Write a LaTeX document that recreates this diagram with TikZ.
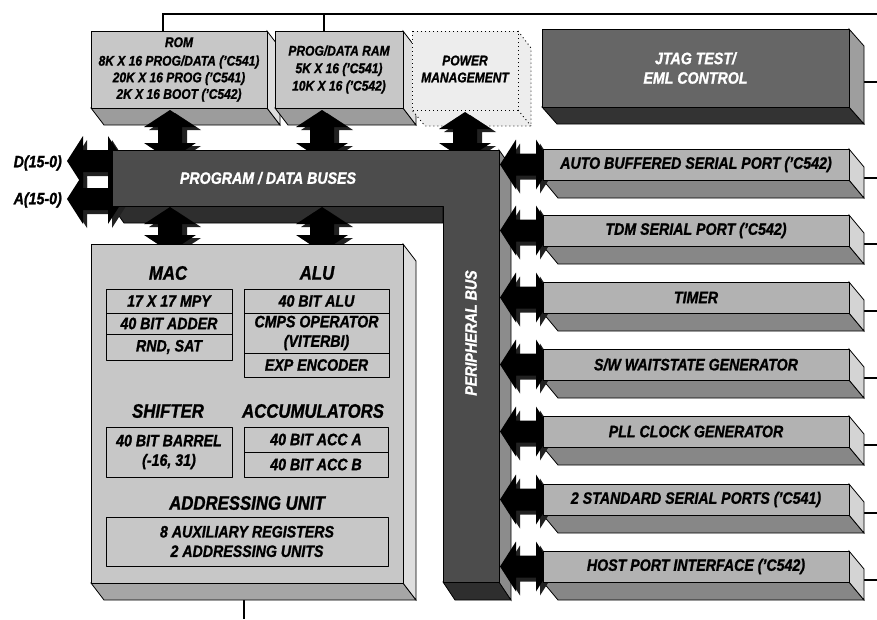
\documentclass[tikz,border=0pt]{standalone}
\usepackage{fontspec}
\setmainfont{Liberation Sans}[FakeStretch=0.86, BoldItalicFeatures={FakeBold=1.2}]
\usetikzlibrary{calc}
\definecolor{memfront}{gray}{0.78}
\definecolor{membot}{gray}{0.61}
\definecolor{memright}{gray}{0.87}
\definecolor{cpufront}{gray}{0.78}
\definecolor{cpubot}{gray}{0.65}
\definecolor{cpuright}{gray}{0.87}
\definecolor{perfront}{gray}{0.70}
\definecolor{perbot}{gray}{0.53}
\definecolor{perright}{gray}{0.83}
\definecolor{jtagfront}{gray}{0.40}
\definecolor{jtagbot}{gray}{0.20}
\definecolor{jtagright}{gray}{0.62}
\definecolor{busfront}{gray}{0.30}
\definecolor{busbot}{gray}{0.18}
\definecolor{busright}{gray}{0.55}
\definecolor{pmfill}{gray}{0.93}
\definecolor{arrshade}{gray}{0.13}
\pgfdeclarelayer{bg}
\pgfdeclarelayer{lines}
\pgfdeclarelayer{extr}
\pgfdeclarelayer{arr}
\pgfsetlayers{bg,lines,extr,arr,main}
\tikzset{
  faceline/.style={draw=black, line width=0.8pt},
  conn/.style={draw=black, line width=1.8pt},
  memtxt/.style={font=\fontsize{14}{16.6}\selectfont\bfseries\itshape},
  pertxt/.style={font=\fontsize{16.5}{19.5}\selectfont\bfseries\itshape},
  ttltxt/.style={font=\fontsize{19.5}{22}\selectfont\bfseries\itshape, inner sep=0pt},
  cell/.style={draw=black, line width=1pt, fill=cpufront, inner sep=0pt, outer sep=0pt, align=center, pertxt},
}
\def\dx{13}\def\dy{17}
% 3D box: name, x1, y1, x2, y2, kind, text style, text
\newcommand\tdbox[8]{%
  \node[faceline, fill=#6front, inner sep=0pt, outer sep=0pt, align=center,
        minimum width={(#4-#2)*1pt}, minimum height={(#5-#3)*1pt}, #7]
        (#1) at ({(#2+#4)/2},{(#3+#5)/2}) {#8};
  \begin{pgfonlayer}{extr}
    \filldraw[fill=#6bot, faceline] (#1.south west) -- ++(\dx,\dy) -- ($(#1.south east)+(\dx,\dy)$) -- (#1.south east) -- cycle;
    \filldraw[fill=#6right, faceline] (#1.north east) -- ++(\dx,\dy) -- ($(#1.south east)+(\dx,\dy)$) -- (#1.south east) -- cycle;
  \end{pgfonlayer}}
\newcommand\cellbox[6]{%
  \node[cell, minimum width={(#4-#2)*1pt}, minimum height={(#5-#3)*1pt}]
        (#1) at ({(#2+#4)/2},{(#3+#5)/2}) {#6};}
% vertical double block arrow: cx, ytop, ybot
\newcommand\varr[3]{%
  \begin{pgfonlayer}{arr}
  \fill[arrshade, shift={(5,3)}] (#1,#2) -- (#1+26,#2+17) -- (#1+12,#2+17) -- (#1+12,#3-17) -- (#1+26,#3-17) -- (#1,#3) -- (#1-26,#3-17) -- (#1-12,#3-17) -- (#1-12,#2+17) -- (#1-26,#2+17) -- cycle;
  \fill[black] (#1,#2) -- (#1+26,#2+17) -- (#1+12,#2+17) -- (#1+12,#3-17) -- (#1+26,#3-17) -- (#1,#3) -- (#1-26,#3-17) -- (#1-12,#3-17) -- (#1-12,#2+17) -- (#1-26,#2+17) -- cycle;
  \end{pgfonlayer}}
% horizontal double block arrow: cy, xleft, xright
\newcommand\harr[3]{%
  \begin{pgfonlayer}{arr}
  \fill[arrshade, shift={(4,4)}] (#2,#1) -- (#2+16,#1-25) -- (#2+16,#1-11) -- (#3-16,#1-11) -- (#3-16,#1-25) -- (#3,#1) -- (#3-16,#1+25) -- (#3-16,#1+11) -- (#2+16,#1+11) -- (#2+16,#1+25) -- cycle;
  \fill[black] (#2,#1) -- (#2+16,#1-25) -- (#2+16,#1-11) -- (#3-16,#1-11) -- (#3-16,#1-25) -- (#3,#1) -- (#3-16,#1+25) -- (#3-16,#1+11) -- (#2+16,#1+11) -- (#2+16,#1+25) -- cycle;
  \end{pgfonlayer}}
\begin{document}
\begin{tikzpicture}[x=1pt,y=-1pt,line join=round]
\useasboundingbox (0,0) rectangle (877,619);
\begin{pgfonlayer}{bg}
\fill[white] (0,0) rectangle (877,619);
\end{pgfonlayer}

% ---------- memory row ----------
\def\dx{13}\def\dy{17}
\tdbox{rom}{91}{31}{267}{108}{mem}{memtxt}{ROM\\[2pt]8K X 16 PROG/DATA ('C541)\\20K X 16 PROG ('C541)\\2K X 16 BOOT ('C542)}
\tdbox{ram}{275}{31}{403}{108}{mem}{memtxt, font=\fontsize{14}{17.5}\selectfont\bfseries\itshape}{PROG/DATA RAM\\5K X 16 ('C541)\\10K X 16 ('C542)}
\def\dx{15}\def\dy{17}
\tdbox{jtag}{542}{29}{849}{107}{jtag}{pertxt, text=white}{JTAG TEST/\\EML CONTROL}

% power management (dotted)
\begin{pgfonlayer}{extr}
  \fill[pmfill] (412,31) -- (518,31) -- (531,48) -- (531,126) -- (425,126) -- (412,110) -- cycle;
  \draw[line width=0.9pt, dash pattern=on 1pt off 3pt] (412,31) rectangle (518,110);
  \draw[line width=0.9pt, dash pattern=on 1pt off 3pt] (518,31) -- (531,48) -- (531,126) -- (425,126) -- (412,110);
  \draw[line width=0.9pt, dash pattern=on 1pt off 3pt] (518,110) -- (531,126);
\end{pgfonlayer}
\node[memtxt, align=center, inner sep=0pt, font=\fontsize{14}{17}\selectfont\bfseries\itshape] (pm) at (465,69) {POWER\\MANAGEMENT};

% ---------- connection lines ----------
\begin{pgfonlayer}{lines}
  \coordinate (topR) at (877,14);
  \draw[conn] (rom.north -| 163,0) -- (163,14) -- (topR);
  \draw[conn] (ram.north -| 324,0) -- (324,14);
  \draw[conn] (855,82) -- (877,82);
  \coordinate (botEnd) at (244,619);
  \draw[conn] (244,595) -- (botEnd);
\end{pgfonlayer}

% ---------- buses ----------
\begin{pgfonlayer}{extr}
  \filldraw[fill=busbot, faceline] (112,206) -- (124,223) -- (443,223) -- (443,206) -- cycle;
  \filldraw[fill=busbot, faceline] (443,582) -- (455,600) -- (511,600) -- (499,582) -- cycle;
  \filldraw[fill=busright, faceline] (499,150) -- (511,167) -- (511,600) -- (499,582) -- cycle;
\end{pgfonlayer}
\filldraw[fill=busfront, faceline] (112,150) -- (499,150) -- (499,582) -- (443,582) -- (443,206) -- (112,206) -- cycle;
\node[pertxt, text=white, inner sep=0pt] (pdb) at (268,178) {PROGRAM / DATA BUSES};
\node[pertxt, text=white, inner sep=0pt, rotate=90] (pbus) at (471,333) {PERIPHERAL BUS};

% ---------- CPU block ----------
\def\dx{13}\def\dy{17}
\tdbox{cpu}{91}{244}{403}{583}{cpu}{}{}
\node[ttltxt] (mac) at (168,273) {MAC};
\node[ttltxt] (alu) at (317,273) {ALU};
\cellbox{mac1}{106}{289}{232}{313}{17 X 17 MPY}
\cellbox{mac2}{106}{313}{232}{334}{40 BIT ADDER}
\cellbox{mac3}{106}{334}{232}{360}{RND, SAT}
\cellbox{alu1}{244}{289}{389}{313}{40 BIT ALU}
\cellbox{alu2}{244}{313}{389}{353}{CMPS OPERATOR\\(VITERBI)}
\cellbox{alu3}{244}{353}{389}{377}{EXP ENCODER}
\node[ttltxt] (shf) at (168,411) {SHIFTER};
\node[ttltxt] (acc) at (313,411) {ACCUMULATORS};
\cellbox{shf1}{106}{427}{232}{477}{40 BIT BARREL\\(-16, 31)}
\cellbox{acc1}{244}{427}{388}{452}{40 BIT ACC A}
\cellbox{acc2}{244}{452}{388}{477}{40 BIT ACC B}
\node[ttltxt] (adu) at (247,503) {ADDRESSING UNIT};
\cellbox{adu1}{106}{517}{388}{566}{8 AUXILIARY REGISTERS\\2 ADDRESSING UNITS}

% ---------- peripherals ----------
\def\dx{15}\def\dy{18}
\tdbox{abs}{543}{149}{849}{180}{per}{pertxt}{AUTO BUFFERED SERIAL PORT ('C542)}
\tdbox{tdm}{543}{215}{849}{246}{per}{pertxt}{TDM SERIAL PORT ('C542)}
\tdbox{tim}{543}{282}{849}{313}{per}{pertxt}{TIMER}
\tdbox{sww}{543}{349}{849}{380}{per}{pertxt}{S/W WAITSTATE GENERATOR}
\tdbox{pll}{543}{416}{849}{447}{per}{pertxt}{PLL CLOCK GENERATOR}
\tdbox{ssp}{543}{484}{849}{515}{per}{pertxt}{2 STANDARD SERIAL PORTS ('C541)}
\tdbox{hpi}{543}{551}{849}{582}{per}{pertxt}{HOST PORT INTERFACE ('C542)}
\begin{pgfonlayer}{lines}
  \foreach \t in {149,215,282,349,416,484,551}{\draw[conn] (855,\t+29) -- (877,\t+29);}
\end{pgfonlayer}
\harr{164.5}{500}{552}
\harr{230.5}{500}{552}
\harr{297.5}{500}{552}
\harr{364.5}{500}{552}
\harr{431.5}{500}{552}
\harr{499.5}{500}{552}
\harr{566.5}{500}{552}

% ---------- bus arrows ----------
\varr{170}{110}{160}
\varr{322}{110}{160}
\varr{465}{112}{160}
\varr{170}{207}{252}
\varr{322}{207}{252}
\harr{161}{67}{124}
\harr{199}{67}{124}
\node[pertxt, anchor=east, inner sep=0pt] (dlab) at (62,163) {D(15-0)};
\node[pertxt, anchor=east, inner sep=0pt] (alab) at (62,200) {A(15-0)};
\end{tikzpicture}
\end{document}
